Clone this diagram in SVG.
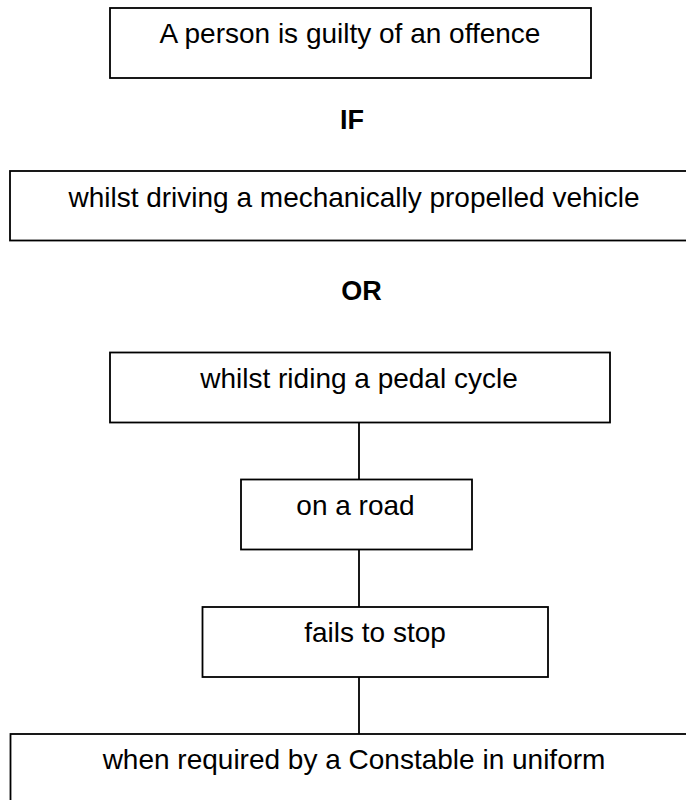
<svg xmlns="http://www.w3.org/2000/svg" width="686" height="800" viewBox="0 0 686 800">
<style>
.box{fill:#fff;stroke:#000;stroke-width:1.8}
.t{font-family:"Liberation Sans",Arial,sans-serif;font-size:28px;fill:#000;text-anchor:middle}
.b{font-family:"Liberation Sans",Arial,sans-serif;font-size:27px;font-weight:bold;fill:#000;text-anchor:middle}
.c{stroke:#000;stroke-width:1.8;fill:none}
</style>
<rect width="686" height="800" fill="#fff"/>
<g id="connectors">
<line class="c" x1="359" y1="422.5" x2="359" y2="479.5"/>
<line class="c" x1="359" y1="549.5" x2="359" y2="607"/>
<line class="c" x1="359" y1="677" x2="359" y2="734"/>
</g>
<g id="n1"><rect class="box" x="110" y="8" width="481" height="70"/><text class="t" x="350" y="43">A person is guilty of an offence</text></g>
<g id="l-if"><text class="b" x="352" y="128.5">IF</text></g>
<g id="n2"><rect class="box" x="10" y="171" width="700" height="69.5"/><text class="t" x="354" y="206.5">whilst driving a mechanically propelled vehicle</text></g>
<g id="l-or"><text class="b" x="361.5" y="299.5">OR</text></g>
<g id="n3"><rect class="box" x="110" y="352.5" width="500" height="70"/><text class="t" x="359" y="388">whilst riding a pedal cycle</text></g>
<g id="n4"><rect class="box" x="241" y="479.5" width="231" height="70"/><text class="t" x="355.5" y="514.5">on a road</text></g>
<g id="n5"><rect class="box" x="202.5" y="607" width="345.5" height="70"/><text class="t" x="375" y="642">fails to stop</text></g>
<g id="n6"><rect class="box" x="10.5" y="734" width="700" height="100"/><text class="t" x="354" y="769">when required by a Constable in uniform</text></g>
</svg>
